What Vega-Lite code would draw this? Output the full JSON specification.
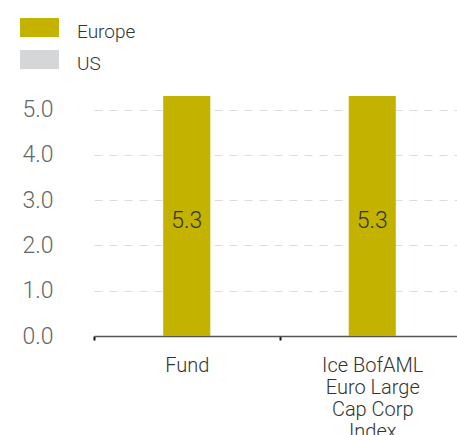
{
  "$schema": "https://vega.github.io/schema/vega-lite/v6.json",
  "autosize": "none",
  "width": 371,
  "height": 240,
  "padding": {"left": 94, "top": 96, "right": 0, "bottom": 99},
  "data": {
    "values": [
      {"category": "Fund", "series": "Europe", "value": 5.3},
      {"category": "Ice BofAML Euro Large Cap Corp Index", "series": "Europe", "value": 5.3}
    ]
  },
  "encoding": {
    "x": {
      "field": "category",
      "type": "nominal",
      "sort": null,
      "scale": {"paddingInner": 0, "paddingOuter": 0},
      "axis": {
        "title": null,
        "labelAngle": 0,
        "tickBand": "extent",
        "domainColor": "#555555",
        "domainWidth": 1.5,
        "tickColor": "#111111",
        "tickSize": 4,
        "tickWidth": 2,
        "labelPadding": 15,
        "labelFont": "Roboto",
        "labelFontWeight": 300,
        "labelFontSize": 20,
        "labelColor": "#333333",
        "labelLineHeight": 22,
        "labelLimit": 0,
        "labelExpr": "datum.value == 'Ice BofAML Euro Large Cap Corp Index' ? ['Ice BofAML', 'Euro Large', 'Cap Corp', 'Index'] : datum.label"
      }
    }
  },
  "layer": [
    {
      "mark": {"type": "bar", "width": {"band": 0.254}},
      "encoding": {
        "y": {
          "field": "value",
          "type": "quantitative",
          "scale": {"domain": [0, 5.3], "nice": false},
          "axis": {
            "title": null,
            "values": [0, 1, 2, 3, 4, 5],
            "format": ".1f",
            "domain": false,
            "ticks": false,
            "labelPadding": 41,
            "labelFont": "Roboto",
            "labelFontWeight": 300,
            "labelFontSize": 23,
            "labelColor": "#666666",
            "grid": true,
            "gridColor": "#dcdcdc",
            "gridDash": [8, 7],
            "gridWidth": 1
          }
        },
        "color": {
          "field": "series",
          "type": "nominal",
          "scale": {"domain": ["Europe", "US"], "range": ["#c4b200", "#d5d6d8"]},
          "legend": {
            "title": null,
            "orient": "none",
            "legendX": -64,
            "legendY": -74,
            "direction": "vertical",
            "symbolType": "M-2.05,-1.42H2.05V0.58H-2.05Z",
            "symbolSize": 361,
            "symbolStrokeWidth": 0,
            "labelOffset": 28,
            "rowPadding": 8,
            "labelFont": "Roboto",
            "labelFontWeight": 300,
            "labelFontSize": 19,
            "labelColor": "#333333"
          }
        }
      }
    },
    {
      "transform": [{"calculate": "datum.value / 2", "as": "mid"}],
      "mark": {"type": "text", "baseline": "middle", "align": "center", "font": "Roboto", "fontWeight": 300, "fontSize": 23, "color": "#333333", "dy": 5},
      "encoding": {
        "y": {"field": "mid", "type": "quantitative"},
        "text": {"field": "value", "type": "quantitative", "format": ".1f"}
      }
    }
  ],
  "config": {
    "view": {"stroke": null}
  }
}
